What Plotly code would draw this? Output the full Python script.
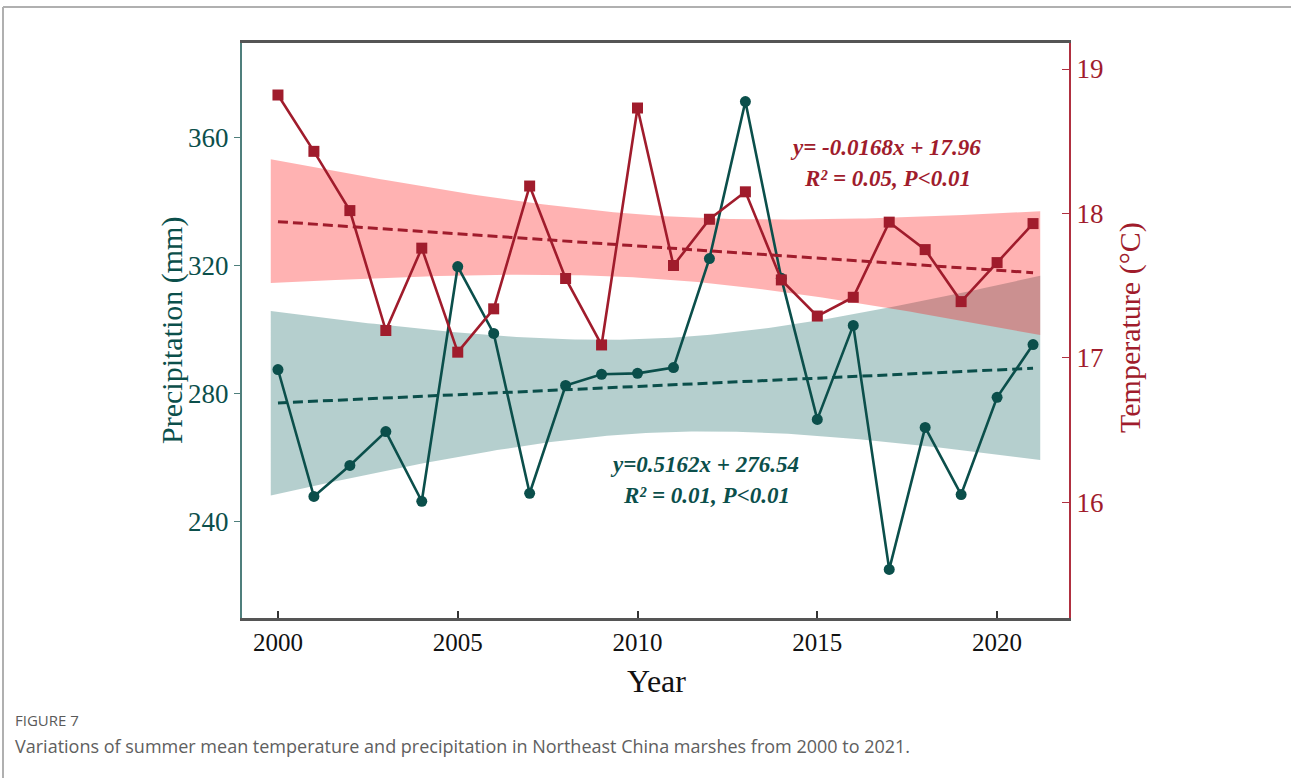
import numpy as np
import plotly.graph_objects as go

# ---- data -------------------------------------------------------------
years = list(range(2000, 2022))
precipitation = [287.5, 247.8, 257.5, 268.1, 246.3, 319.7, 298.8, 248.8, 282.5, 286.0, 286.3,
                 288.1, 322.2, 371.3, 316.0, 271.9, 301.3, 225.0, 269.4, 248.4, 278.8, 295.3]
temperature = [18.82, 18.43, 18.02, 17.19, 17.76, 17.04, 17.34, 18.19, 17.55, 17.09, 18.73,
               17.64, 17.96, 18.15, 17.54, 17.29, 17.42, 17.94, 17.75, 17.39, 17.66, 17.93]

# linear trends (x = year index, 2000 -> 1)
prec_slope, prec_icpt = 0.5162, 276.54
temp_slope, temp_icpt = -0.0168, 17.96

x_ticks = [2000, 2005, 2010, 2015, 2020]
prec_ticks = [240, 280, 320, 360]
temp_ticks = [16, 17, 18, 19]

PREC_RANGE = [209.8, 389.6]
TEMP_RANGE = [15.2, 19.18]

TEAL = "#0b4f4b"
RED = "#a01c2c"
SERIF = "Liberation Serif"

# ---- plot geometry (pixels) ------------------------------------------
W, H = 1291, 778
L, R, T, B = 242, 1069, 43, 618
pw, ph = R - L, B - T


def px(x):
    return (x - L) / pw


def py(y):
    return (B - y) / ph


def trend_band(vals, slope, icpt, x0=1999.8, x1=2021.2, t=2.086):
    """95% confidence band of the regression mean around the trend line."""
    idx = np.array(years) - 1999
    vals = np.asarray(vals)
    resid = vals - (icpt + slope * idx)
    s = np.sqrt(np.sum(resid ** 2) / (len(idx) - 2))
    xbar = idx.mean()
    sxx = np.sum((idx - xbar) ** 2)
    xs = np.linspace(x0, x1, 120)
    xi = xs - 1999
    fit = icpt + slope * xi
    hw = t * s * np.sqrt(1 / len(idx) + (xi - xbar) ** 2 / sxx)
    return xs, fit - hw, fit + hw


fig = go.Figure()

# confidence bands (precipitation band on y, temperature band on y2)
for vals, slope, icpt, fill, axis in [
    (precipitation, prec_slope, prec_icpt, "rgba(10,95,92,0.30)", "y"),
    (temperature, temp_slope, temp_icpt, "rgba(255,0,0,0.30)", "y2"),
]:
    xs, lo, hi = trend_band(vals, slope, icpt)
    fig.add_trace(go.Scatter(
        x=np.concatenate([xs, xs[::-1]]), y=np.concatenate([hi, lo[::-1]]),
        fill="toself", fillcolor=fill, line=dict(width=0), mode="lines",
        hoverinfo="skip", showlegend=False, yaxis=axis))

# lines and markers live on overlay axes y3 / y4 so they sit above both bands
idx = np.array(years) - 1999
fig.add_trace(go.Scatter(x=years, y=prec_icpt + prec_slope * idx, mode="lines",
                         line=dict(color=TEAL, width=3, dash="10px,5px"),
                         showlegend=False, yaxis="y3"))
fig.add_trace(go.Scatter(x=years, y=precipitation, mode="lines+markers",
                         line=dict(color=TEAL, width=2.6),
                         marker=dict(symbol="circle", size=11, color=TEAL),
                         name="Precipitation", showlegend=False, yaxis="y3"))
fig.add_trace(go.Scatter(x=years, y=temp_icpt + temp_slope * idx, mode="lines",
                         line=dict(color=RED, width=3, dash="10px,5px"),
                         showlegend=False, yaxis="y4"))
fig.add_trace(go.Scatter(x=years, y=temperature, mode="lines+markers",
                         line=dict(color=RED, width=2.6),
                         marker=dict(symbol="square", size=11, color=RED),
                         name="Temperature", showlegend=False, yaxis="y4"))

annotations = [
    dict(text="<b><i>y= -0.0168x + 17.96</i></b>", x=px(885), y=py(148)),
    dict(text="<b><i>R² = 0.05, P&lt;0.01</i></b>", x=px(887), y=py(178)),
]
for a in annotations:
    a.update(font=dict(family=SERIF, size=23, color=RED))
annotations2 = [
    dict(text="<b><i>y=0.5162x + 276.54</i></b>", x=px(704), y=py(464)),
    dict(text="<b><i>R² = 0.01, P&lt;0.01</i></b>", x=px(706), y=py(495)),
]
for a in annotations2:
    a.update(font=dict(family=SERIF, size=23, color=TEAL))
annotations += annotations2

annotations += [
    dict(text="Precipitation (mm)", x=px(172), y=py(331), textangle=-90,
         font=dict(family=SERIF, size=30, color=TEAL)),
    dict(text="Temperature (°C)", x=px(1130), y=py(328), textangle=-90,
         font=dict(family=SERIF, size=30, color=RED)),
    dict(text="Year", x=px(656), y=py(681),
         font=dict(family=SERIF, size=32, color="#111111")),
    dict(text="FIGURE 7", x=px(13), y=py(720), xanchor="left",
         font=dict(family="Open Sans", size=15, color="#5a5a5a")),
    dict(text="Variations of summer mean temperature and precipitation in Northeast China marshes from 2000 to 2021.",
         x=px(13), y=py(746), xanchor="left",
         font=dict(family="Open Sans", size=18, color="#606060")),
]
for a in annotations:
    a.update(xref="paper", yref="paper", showarrow=False)
    a.setdefault("xanchor", "center")
    a.setdefault("yanchor", "middle")

shapes = [
    # page frame: top rule and left rule
    dict(type="line", xref="paper", yref="paper", x0=px(3), x1=px(1291), y0=py(7), y1=py(7),
         line=dict(color="#b0b0b0", width=2)),
    dict(type="line", xref="paper", yref="paper", x0=px(3), x1=px(3), y0=py(7), y1=py(778),
         line=dict(color="#b0b0b0", width=2)),
]

hidden = dict(showline=False, showgrid=False, zeroline=False, showticklabels=False,
              ticks="", overlaying="y")

fig.update_layout(
    width=W, height=H,
    margin=dict(l=L, r=W - R, t=T, b=H - B, pad=0),
    paper_bgcolor="white", plot_bgcolor="white",
    showlegend=False,
    annotations=annotations,
    shapes=shapes,
    xaxis=dict(range=[1999, 2022], tickvals=x_ticks, ticks="inside", ticklen=7, tickwidth=1.5,
               tickcolor="#333333", showline=True, linecolor="#555555", linewidth=2.5,
               mirror=True, showgrid=False, zeroline=False,
               tickfont=dict(family=SERIF, size=25, color="#111111")),
    yaxis=dict(range=PREC_RANGE, tickvals=prec_ticks, ticks="outside", ticklen=6,
               tickcolor="#4f7f7c", showline=True, linecolor="#4f7f7c", linewidth=2,
               showgrid=False, zeroline=False,
               tickfont=dict(family=SERIF, size=27, color=TEAL)),
    yaxis2=dict(range=TEMP_RANGE, tickvals=temp_ticks, ticks="inside", ticklen=7,
                tickcolor="#b03040", showline=True, linecolor="#b03040", linewidth=2,
                overlaying="y", side="right", showgrid=False, zeroline=False,
                tickfont=dict(family=SERIF, size=27, color=RED)),
    yaxis3=dict(range=PREC_RANGE, **hidden),
    yaxis4=dict(range=TEMP_RANGE, side="right", **hidden),
)

fig.write_html("out.html")
